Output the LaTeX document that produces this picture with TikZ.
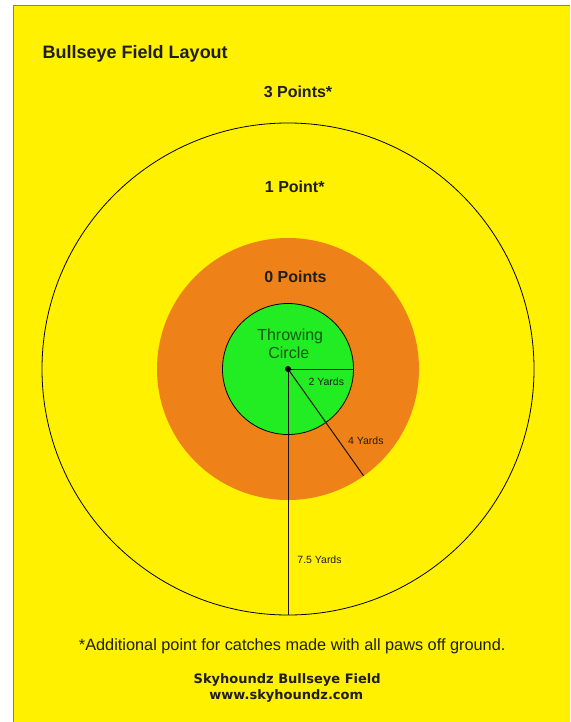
\documentclass[tikz,border=0pt]{standalone}
\usepackage{fontspec}
\setmainfont{Liberation Sans}
\newfontfamily\vfont{DejaVu Sans}
\definecolor{bgyellow}{RGB}{255,241,0}
\definecolor{ringorange}{RGB}{238,130,24}
\definecolor{throwgreen}{RGB}{34,236,34}
\definecolor{framecol}{RGB}{140,135,60}
\definecolor{txt}{RGB}{30,30,30}
\definecolor{greentxt}{RGB}{25,85,25}
\begin{document}
\begin{tikzpicture}[x=1pt,y=-1pt,
  lbl/.style={inner sep=0pt, anchor=base, text=txt},
  big/.style={lbl, font=\fontsize{16}{19}\selectfont\bfseries},
  yd/.style={lbl, font=\fontsize{10.5}{12}\selectfont},
  ring/.style={draw=black, line width=0.8pt},
  radius line/.style={draw=black!85!brown, line width=1pt}]
\useasboundingbox (0,0) rectangle (570,722);
\fill[white] (0,0) rectangle (570,722);
\fill[bgyellow] (13.5,5.5) rectangle (570,722);
\draw[framecol, line width=1.8pt] (13.5,722) -- (13.5,5.5) -- (570,5.5);
\coordinate (c) at (288,369);
\filldraw[fill=bgyellow, ring] (c) circle (246pt);
\fill[ringorange] (c) circle (131pt);
\filldraw[fill=throwgreen, ring] (c) circle (65.5pt);
\coordinate (e2) at (353.5,369);
\coordinate (e4) at (363.6,475.8);
\coordinate (e75) at (288,615);
\draw[radius line] (c) -- (e2);
\draw[radius line] (c) -- (e4);
\draw[radius line] (c) -- (e75);
\fill[black] (c) circle (3pt);
\node[lbl, anchor=base west, font=\fontsize{18}{21}\selectfont\bfseries] (title) at (42.5,59) {Bullseye Field Layout};
\node[big] (p3) at (298,98) {3 Points*};
\node[big] (p1) at (294.7,193) {1 Point*};
\node[big] (p0) at (295.5,282) {0 Points};
\node[lbl, text=greentxt, font=\fontsize{16}{19}\selectfont] (throw1) at (290.2,340) {Throwing};
\node[lbl, text=greentxt, font=\fontsize{16}{19}\selectfont] (throw2) at (288.8,358.5) {Circle};
\node[yd] (y2) at (326.3,385) {2 Yards};
\node[yd] (y4) at (365.8,444.5) {4 Yards};
\node[yd] (y75) at (319.5,563) {7.5 Yards};
\node[lbl, font=\fontsize{16.3}{19}\selectfont] (note) at (292.2,650) {*Additional point for catches made with all paws off ground.};
\node[lbl, font=\vfont\bfseries\fontsize{13}{15}\selectfont] (brand) at (287.2,683) {Skyhoundz Bullseye Field};
\node[lbl, font=\vfont\bfseries\fontsize{13}{15}\selectfont] (web) at (286.3,699) {www.skyhoundz.com};
\end{tikzpicture}
\end{document}
